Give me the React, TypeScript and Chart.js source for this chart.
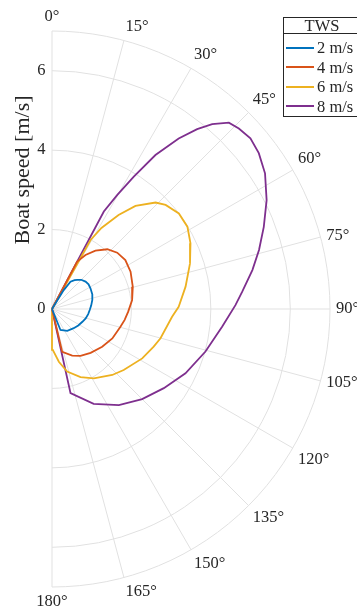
import React, { useEffect, useRef } from "react";
import { Chart, registerables } from "chart.js";

Chart.register(...registerables);

// Canvas geometry of the polar plot
const WIDTH = 357;
const HEIGHT = 611;
const CENTER_X = 52;
const CENTER_Y = 309;
const R_MAX = 7;
const OUTER_RADIUS_PX = 278;
const PX_PER_UNIT = OUTER_RADIUS_PX / R_MAX;

const FONT = "'Liberation Serif', 'DejaVu Serif', serif";
const TEXT_COLOR = "#262626";
const GRID_COLOR = "#e1e1e1";

// Axis ticks
const radialTicks = [0, 2, 4, 6];
const gridRadii = [2, 4, 6, 7];
const thetaTicks = [0, 15, 30, 45, 60, 75, 90, 105, 120, 135, 150, 165, 180];
const radialTitle = "Boat speed [m/s]";

// True wind speed series
const legendTitle = "TWS";
const twsLabels = ["2 m/s", "4 m/s", "6 m/s", "8 m/s"];
const twsColors = ["#0072BD", "#D95319", "#EDB120", "#7E2F8E"];

// Polar data: heading to wind [deg] and boat speed [m/s]
const tws2Angle = [0, 31.8, 34.1, 38, 41.0, 45, 50.8, 56, 61.7, 70, 77.4, 85, 91.5, 98, 105.5, 112.8, 122, 131.5, 145, 158, 180];
const tws2Speed = [0, 0.56, 0.83, 0.92, 0.97, 1.04, 1.09, 1.11, 1.10, 1.08, 1.04, 0.99, 0.95, 0.92, 0.88, 0.83, 0.78, 0.73, 0.67, 0.57, 0];

const tws4Angle = [0, 28, 31.8, 36.7, 42.8, 49.2, 56.3, 64.6, 74.6, 83.6, 92, 98.5, 104.5, 116, 126.9, 138.6, 148.6, 156.6, 166.6, 180];
const tws4Speed = [0, 1.35, 1.60, 1.83, 2.05, 2.17, 2.22, 2.19, 2.11, 2.03, 1.92, 1.85, 1.78, 1.69, 1.58, 1.47, 1.38, 1.28, 1.11, 0];

const tws6Angle = [0, 29.2, 31.4, 35.3, 39.0, 44.2, 47.5, 53.0, 58.7, 64.6, 71.7, 80.5, 89, 93.7, 105.1, 110.3, 118.7, 130.4, 137.6, 148.9, 157.3, 166.4, 172.6, 178.9, 180];
const tws6Speed = [0, 1.99, 2.39, 2.90, 3.34, 3.74, 3.88, 4.00, 3.99, 3.86, 3.66, 3.41, 3.19, 3.03, 2.83, 2.73, 2.59, 2.37, 2.25, 2.04, 1.86, 1.62, 1.34, 1.03, 0];

const tws8Angle = [0, 28.0, 29.8, 31.7, 33.9, 36.6, 38.9, 40.9, 43.5, 46.0, 49.3, 53.0, 57.5, 63.1, 68.8, 74.1, 79.0, 84.8, 88.8, 95.9, 105.5, 115.7, 125.3, 135.0, 145.2, 156.3, 167.6, 180];
const tws8Speed = [0, 2.78, 3.31, 3.92, 4.67, 5.35, 5.82, 6.16, 6.47, 6.54, 6.59, 6.52, 6.36, 6.06, 5.72, 5.42, 5.14, 4.81, 4.62, 4.31, 4.01, 3.73, 3.45, 3.21, 2.95, 2.61, 2.17, 0];

const seriesAngles = [tws2Angle, tws4Angle, tws6Angle, tws8Angle];
const seriesSpeeds = [tws2Speed, tws4Speed, tws6Speed, tws8Speed];

const DEG = Math.PI / 180;

// Heading measured clockwise from the top of the plot
function toCartesian(angles: number[], speeds: number[]) {
  return angles.map((a, i) => ({
    x: speeds[i] * Math.sin(a * DEG),
    y: speeds[i] * Math.cos(a * DEG),
  }));
}

const polarGridPlugin = {
  id: "polarGrid",
  beforeDatasetsDraw(chart: any) {
    const { ctx } = chart;
    const xs = chart.scales.x;
    const ys = chart.scales.y;
    const cx = xs.getPixelForValue(0);
    const cy = ys.getPixelForValue(0);
    const unit = xs.getPixelForValue(1) - cx;
    const outer = R_MAX * unit;

    ctx.save();
    ctx.strokeStyle = GRID_COLOR;
    ctx.lineWidth = 1;

    // half circles
    gridRadii.forEach((r) => {
      ctx.beginPath();
      ctx.arc(cx, cy, r * unit, -Math.PI / 2, Math.PI / 2);
      ctx.stroke();
    });

    // spokes
    thetaTicks.forEach((t) => {
      ctx.beginPath();
      ctx.moveTo(cx, cy);
      ctx.lineTo(cx + outer * Math.sin(t * DEG), cy - outer * Math.cos(t * DEG));
      ctx.stroke();
    });

    ctx.fillStyle = TEXT_COLOR;

    // radial tick labels
    ctx.font = `16.5px ${FONT}`;
    ctx.textAlign = "right";
    ctx.textBaseline = "middle";
    radialTicks.forEach((r) => {
      ctx.fillText(String(r), cx - 6.5, cy - r * unit);
    });

    // angle labels, anchored just outside the outer arc
    const labelRadius = outer + 6;
    thetaTicks.forEach((t) => {
      const px = cx + labelRadius * Math.sin(t * DEG);
      const py = cy - labelRadius * Math.cos(t * DEG);
      ctx.textAlign = t === 0 || t === 180 ? "center" : "left";
      ctx.textBaseline = t < 70 ? "bottom" : t > 110 ? "top" : "middle";
      ctx.fillText(`${t}°`, px, py);
    });

    // radial axis title
    ctx.font = `22px ${FONT}`;
    ctx.translate(cx - 23.5, cy - (R_MAX / 2) * unit);
    ctx.rotate(-Math.PI / 2);
    ctx.textAlign = "center";
    ctx.textBaseline = "alphabetic";
    ctx.fillText(radialTitle, 0, 0);
    ctx.restore();
  },
};

function PolarChart() {
  const canvasRef = useRef<HTMLCanvasElement | null>(null);

  useEffect(() => {
    const canvas = canvasRef.current;
    if (!canvas) return;
    const chart = new Chart(canvas, {
      type: "scatter",
      data: {
        datasets: twsLabels.map((label, i) => ({
          label,
          data: toCartesian(seriesAngles[i], seriesSpeeds[i]),
          showLine: true,
          borderColor: twsColors[i],
          backgroundColor: twsColors[i],
          borderWidth: 1.8,
          pointRadius: 0,
          tension: 0,
          fill: false,
        })),
      },
      options: {
        animation: false,
        responsive: false,
        maintainAspectRatio: false,
        devicePixelRatio: 1,
        layout: { padding: 0 },
        plugins: {
          legend: { display: false },
          tooltip: { enabled: false },
        },
        scales: {
          x: {
            type: "linear",
            display: false,
            min: -CENTER_X / PX_PER_UNIT,
            max: (WIDTH - CENTER_X) / PX_PER_UNIT,
          },
          y: {
            type: "linear",
            display: false,
            min: -(HEIGHT - CENTER_Y) / PX_PER_UNIT,
            max: CENTER_Y / PX_PER_UNIT,
          },
        },
      },
      plugins: [polarGridPlugin],
    });
    return () => chart.destroy();
  }, []);

  return <canvas ref={canvasRef} width={WIDTH} height={HEIGHT} style={{ display: "block" }} />;
}

function Legend() {
  return (
    <div
      style={{
        position: "absolute",
        left: 283,
        top: 17,
        width: 78,
        border: `1px solid ${TEXT_COLOR}`,
        background: "#fff",
        fontFamily: FONT,
        color: TEXT_COLOR,
        boxSizing: "border-box",
      }}
    >
      <div
        style={{
          height: 15,
          lineHeight: "15px",
          fontSize: 16.5,
          textAlign: "center",
          borderBottom: `1px solid ${TEXT_COLOR}`,
        }}
      >
        {legendTitle}
      </div>
      <div style={{ paddingTop: 4 }}>
        {twsLabels.map((label, i) => (
          <div key={label} style={{ display: "flex", alignItems: "center", height: 19.5 }}>
            <div style={{ marginLeft: 2, width: 28, height: 2, flex: "none", background: twsColors[i] }} />
            <span style={{ marginLeft: 3, fontSize: 16.5, lineHeight: "19px", whiteSpace: "nowrap" }}>{label}</span>
          </div>
        ))}
      </div>
    </div>
  );
}

export default function App() {
  useEffect(() => {
    document.body.style.margin = "0";
  }, []);
  return (
    <div
      style={{
        position: "relative",
        width: WIDTH,
        height: HEIGHT,
        overflow: "hidden",
        background: "#fff",
      }}
    >
      <PolarChart />
      <Legend />
    </div>
  );
}
